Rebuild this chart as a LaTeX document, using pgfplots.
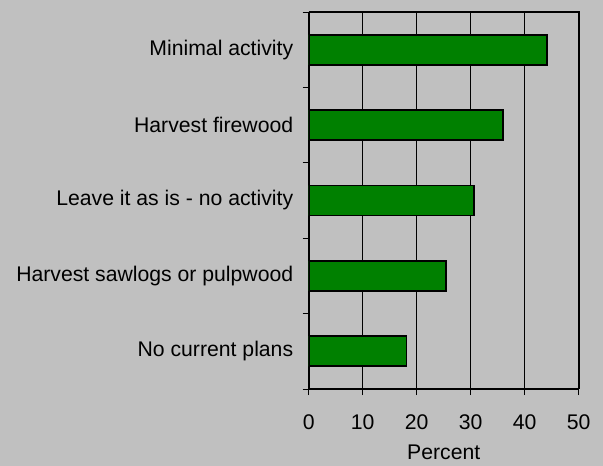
\documentclass[border=0pt]{standalone}
\usepackage{pgfplots}
\pgfplotsset{compat=1.18}
\usepackage{fontspec}
\setmainfont{Liberation Sans}
\definecolor{bggray}{HTML}{C0C0C0}
\definecolor{bargreen}{HTML}{008000}
\begin{document}
\begin{tikzpicture}
\fill[bggray] (0,0) rectangle (603bp,466bp);
\begin{axis}[
  at={(308.7bp,77bp)}, anchor=south west,
  width=270bp, height=377bp, scale only axis,
  xbar, bar width=0.4,
  xmin=0, xmax=50, ymin=-0.5, ymax=4.5,
  xtick={0,10,...,50},
  ytick={0,1,2,3,4},
  yticklabels={No current plans, Harvest sawlogs or pulpwood, Leave it as is - no activity, Harvest firewood, Minimal activity},
  minor ytick={-0.5,0.5,1.5,2.5,3.5,4.5},
  major tick length=6bp, minor tick length=6bp,
  tick align=outside,
  tick style={black, line width=0.9bp},
  major y tick style={draw=none},
  xmajorgrids, grid style={black, line width=0.8bp},
  axis line style={black, line width=1.6bp},
  axis x line*=bottom, axis y line*=left,
  /pgf/number format/assume math mode=true,
  tick label style={font=\fontsize{21.2bp}{25bp}\selectfont, text=black},
  xticklabel style={yshift=-16bp},
  yticklabel style={xshift=-6bp},
  xlabel={Percent},
  xlabel style={font=\fontsize{21.2bp}{25bp}\selectfont, yshift=-11bp, inner sep=1bp},
  axis background/.style={fill=bggray},
]
\addplot[fill=bargreen, draw=black, line width=1.8bp] coordinates {
 (18.1,0) (25.4,1) (30.6,2) (36.0,3) (44.2,4)
};
\end{axis}
\draw[black, line width=1.6bp] (308.7bp,466bp-12bp) -- (578.7bp,466bp-12bp) -- (578.7bp,77bp);
\pgfresetboundingbox
\useasboundingbox (0,0) rectangle (603bp,466bp);
\end{tikzpicture}
\end{document}
